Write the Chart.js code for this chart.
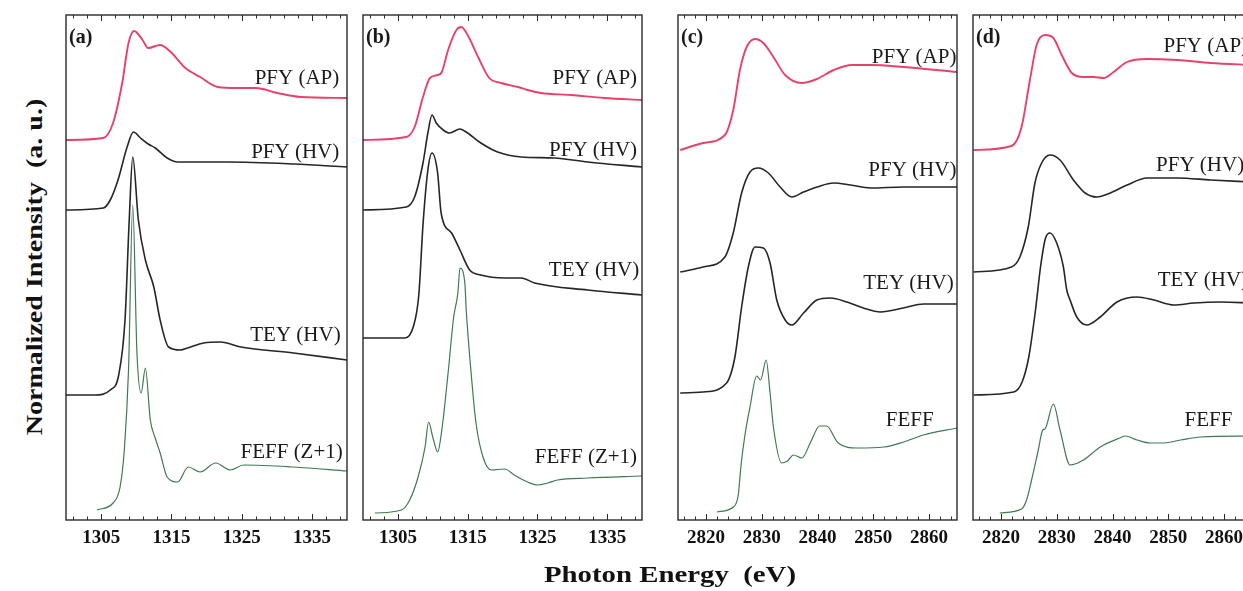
<!DOCTYPE html>
<html>
<head>
<meta charset="utf-8">
<script src="https://cdn.jsdelivr.net/npm/chart.js@4.4.1/dist/chart.umd.min.js"></script>
<style>
  html, body { margin: 0; padding: 0; background: #fff; overflow: hidden; }
  #wrap { position: relative; width: 1243px; height: 591px; overflow: hidden; }
  .panel { position: absolute; top: 0; }
  .title { position: absolute; height: 30px; line-height: 30px; text-align: center;
           font-family: "Liberation Serif", "Times New Roman", serif; font-weight: bold;
           color: #111; white-space: pre; }
  #xtitle { left: 420px; top: 559px; width: 500px; font-size: 24px; transform: scaleX(1.2); }
  #ytitle { left: -165px; top: 252px; width: 400px; font-size: 23px; transform: rotate(-90deg) scaleX(1.22); }
</style>
</head>
<body>
<div id="wrap">
  <canvas id="pa" class="panel" style="left:56px" width="301" height="591"></canvas>
  <canvas id="pb" class="panel" style="left:353px" width="299" height="591"></canvas>
  <canvas id="pc" class="panel" style="left:668px" width="299" height="591"></canvas>
  <canvas id="pd" class="panel" style="left:963px" width="299" height="591"></canvas>
  <div id="xtitle" class="title">Photon Energy  (eV)</div>
  <div id="ytitle" class="title">Normalized Intensity  (a. u.)</div>
</div>
<script>
// ---------------- tick labels ----------------
const ticksL = [1305, 1315, 1325, 1335];          // L-edge panels (a), (b)
const ticksK = [2820, 2830, 2840, 2850, 2860];    // K-edge panels (c), (d)

// ---------------- curves : [energy, normalized intensity + offset] ----------------
// panel (a)
const a_pfyAP = [[1300,3.80],[1305.3,3.82],[1306.7,3.97],[1308,4.37],[1308.9,4.77],[1309.7,4.89],[1310.9,4.80],[1311.7,4.72],[1313.4,4.75],[1314.9,4.68],[1317,4.52],[1319.1,4.43],[1321.6,4.33],[1324.4,4.32],[1327,4.32],[1330.1,4.27],[1333.4,4.23],[1340,4.22]];
const a_pfyHV = [[1300,3.10],[1305.3,3.12],[1306.3,3.20],[1307.4,3.40],[1308.7,3.73],[1309.6,3.88],[1310.6,3.82],[1311.7,3.76],[1312.7,3.72],[1314.4,3.62],[1315.9,3.58],[1323,3.58],[1332.4,3.56],[1340,3.53]];
const a_teyHV = [[1300,1.25],[1304.1,1.25],[1306.3,1.30],[1307.5,1.45],[1308.4,2.0],[1309.0,3.0],[1309.5,3.63],[1310.3,3.0],[1311.3,2.6],[1312.5,2.33],[1313.4,2.0],[1314.6,1.73],[1316.3,1.70],[1317.3,1.72],[1319.6,1.77],[1322,1.78],[1324.9,1.73],[1332.4,1.67],[1340,1.60]];
const a_feff  = [[1304.4,0.10],[1306.7,0.17],[1307.7,0.33],[1308.3,0.70],[1308.9,1.50],[1309.5,3.15],[1310.1,1.67],[1310.7,1.27],[1311.3,1.52],[1312,1.0],[1312.7,0.82],[1313.4,0.67],[1314.4,0.43],[1315.9,0.38],[1317.4,0.53],[1319.1,0.48],[1321.3,0.57],[1323.4,0.50],[1325.3,0.55],[1332.4,0.53],[1340,0.49]];
// panel (b)
const b_pfyAP = [[1300,3.80],[1306.2,3.83],[1307.4,3.93],[1308.6,4.23],[1309.6,4.42],[1310.7,4.45],[1311.3,4.48],[1312.2,4.70],[1313.4,4.90],[1314.1,4.93],[1315,4.85],[1316.5,4.63],[1318.1,4.42],[1319.8,4.37],[1322.2,4.33],[1323.6,4.30],[1325.5,4.27],[1329.8,4.25],[1334.6,4.22],[1340,4.20]];
const b_pfyHV = [[1300,3.10],[1306.2,3.13],[1307.4,3.23],[1308.6,3.57],[1309.3,3.87],[1309.9,4.05],[1310.5,3.97],[1311.5,3.90],[1312.4,3.87],[1313.9,3.91],[1315,3.87],[1316.9,3.77],[1319.3,3.68],[1322.7,3.63],[1327.4,3.62],[1332.2,3.58],[1340,3.53]];
const b_teyHV = [[1300,1.82],[1306,1.82],[1307.2,1.93],[1308.0,2.25],[1308.6,2.95],[1309.3,3.50],[1309.9,3.67],[1310.7,3.47],[1311.2,3.07],[1312.7,2.87],[1313.9,2.70],[1315.3,2.50],[1316.9,2.45],[1320.3,2.42],[1322.7,2.42],[1324.6,2.37],[1332.2,2.30],[1340,2.25]];
const b_feff  = [[1301.7,0.07],[1305.5,0.10],[1306.7,0.20],[1307.9,0.43],[1308.9,0.73],[1309.4,0.98],[1310,0.83],[1310.7,0.68],[1311.3,0.90],[1312.2,1.47],[1313,2.03],[1313.6,2.27],[1313.9,2.52],[1314.6,2.37],[1314.8,2.10],[1315.5,1.47],[1316.2,0.97],[1317.2,0.63],[1318.4,0.50],[1320.3,0.51],[1321.7,0.45],[1323.6,0.38],[1325,0.35],[1326.5,0.37],[1327.9,0.40],[1332.2,0.42],[1340,0.44]];
// panel (c)
const c_pfyAP = [[2815.4,3.70],[2819.5,3.77],[2823.4,3.85],[2824.9,4.10],[2826.1,4.50],[2827.3,4.73],[2828.8,4.81],[2830.3,4.77],[2832.1,4.63],[2834.2,4.45],[2837.2,4.37],[2839.9,4.41],[2842.9,4.50],[2846.2,4.55],[2849.5,4.55],[2855.4,4.53],[2865,4.48]];
const c_pfyHV = [[2815.4,2.48],[2819.5,2.53],[2823.4,2.63],[2824.9,2.87],[2826.4,3.27],[2827.9,3.48],[2829.4,3.52],[2831.2,3.47],[2833.3,3.33],[2835.4,3.23],[2837.5,3.28],[2839.9,3.33],[2842.9,3.37],[2845.9,3.35],[2849.5,3.32],[2855.4,3.33],[2865,3.33]];
const c_teyHV = [[2815.4,1.27],[2819.5,1.28],[2823.7,1.37],[2825.2,1.63],[2826.4,2.13],[2827.6,2.53],[2828.8,2.73],[2830.3,2.72],[2831.5,2.57],[2832.7,2.20],[2834.2,2.00],[2835.4,1.95],[2837.5,2.07],[2839.9,2.20],[2842.3,2.22],[2845.3,2.18],[2848.2,2.12],[2851.3,2.08],[2855.4,2.12],[2859,2.16],[2865,2.16]];
const c_feff  = [[2822,0.08],[2824.9,0.13],[2825.8,0.25],[2826.3,0.55],[2827,0.85],[2827.9,1.13],[2829.1,1.44],[2829.8,1.40],[2830.8,1.60],[2831.5,1.27],[2832.1,0.93],[2833.6,0.57],[2834.6,0.59],[2835.7,0.65],[2837.2,0.62],[2838.7,0.77],[2840.4,0.94],[2841.6,0.94],[2843.7,0.77],[2847.1,0.72],[2851.9,0.73],[2855.4,0.78],[2859,0.85],[2865,0.92]];
// panel (d)
const d_pfyAP = [[2815.1,3.70],[2821.9,3.74],[2823.7,3.93],[2825.2,4.40],[2826.4,4.75],[2827.9,4.85],[2829.4,4.82],[2830.9,4.65],[2832.7,4.47],[2834.8,4.43],[2836.6,4.43],[2838.4,4.42],[2840.2,4.48],[2842.6,4.58],[2846.2,4.61],[2851.6,4.60],[2857.6,4.57],[2865,4.55]];
const d_pfyHV = [[2815.1,2.48],[2821.9,2.53],[2823.4,2.63],[2824.9,2.93],[2826.1,3.37],[2827.3,3.57],[2828.8,3.65],[2830.6,3.60],[2833,3.40],[2835.1,3.27],[2837.2,3.23],[2839.6,3.27],[2842.6,3.35],[2846.2,3.42],[2851.6,3.42],[2857.6,3.40],[2865,3.38]];
const d_teyHV = [[2815.1,1.25],[2822.3,1.28],[2823.8,1.38],[2825,1.63],[2826.2,2.10],[2827.1,2.53],[2828,2.82],[2828.8,2.87],[2830,2.77],[2831.2,2.53],[2831.8,2.30],[2832.4,2.20],[2833.6,2.03],[2835.4,1.95],[2837.8,2.03],[2840.8,2.18],[2844.4,2.23],[2847.4,2.20],[2851,2.15],[2854.6,2.17],[2859.4,2.18],[2865,2.17]];
const d_feff  = [[2819.8,0.07],[2823.7,0.11],[2824.6,0.20],[2825.5,0.40],[2826.7,0.70],[2827.5,0.90],[2827.9,0.91],[2829.4,1.16],[2830.6,0.90],[2832.4,0.55],[2834.8,0.60],[2837.8,0.73],[2841.3,0.82],[2842.3,0.84],[2844.4,0.80],[2846.8,0.77],[2849.2,0.77],[2852.2,0.80],[2855.8,0.83],[2865,0.84]];

const seriesNames = ["PFY (AP)", "PFY (HV)", "TEY (HV)", "FEFF"];
const seriesColors = ["#e8416c", "#262626", "#262626", "#3f7a50"];
const seriesWidths = [1.9, 1.6, 1.6, 1.2];

// curve labels : [text, right-edge energy, height]
const labelsA = [["PFY (AP)",1338.9,4.42],["PFY (HV)",1338.9,3.68],["TEY (HV)",1339.1,1.85],["FEFF (Z+1)",1339.4,0.68]];
const labelsB = [["PFY (AP)",1339.3,4.42],["PFY (HV)",1339.3,3.70],["TEY (HV)",1339.6,2.50],["FEFF (Z+1)",1339.3,0.63]];
const labelsC = [["PFY (AP)",2864.9,4.63],["PFY (HV)",2864.9,3.50],["TEY (HV)",2864.4,2.37],["FEFF",2860.8,1.00]];
const labelsD = [["PFY (AP)",2864.3,4.74],["PFY (HV)",2863.6,3.55],["TEY (HV)",2864.3,2.40],["FEFF",2861.5,1.00]];

const panels = [
  { id: "pa", tag: "(a)", min: 1300, max: 1340, ticks: ticksL, curves: [a_pfyAP, a_pfyHV, a_teyHV, a_feff], labels: labelsA },
  { id: "pb", tag: "(b)", min: 1300, max: 1340, ticks: ticksL, curves: [b_pfyAP, b_pfyHV, b_teyHV, b_feff], labels: labelsB },
  { id: "pc", tag: "(c)", min: 2815, max: 2865, ticks: ticksK, curves: [c_pfyAP, c_pfyHV, c_teyHV, c_feff], labels: labelsC },
  { id: "pd", tag: "(d)", min: 2815, max: 2865, ticks: ticksK, curves: [d_pfyAP, d_pfyHV, d_teyHV, d_feff], labels: labelsD },
];

const SERIF = '"Liberation Serif", "Times New Roman", serif';

// frame, inward ticks (major + minor), curve labels and panel tag
const framePlugin = {
  id: "frame",
  afterDraw(chart, args, opts) {
    const { ctx, chartArea: a, scales } = chart;
    const xs = scales.x, ys = scales.y;
    ctx.save();
    ctx.strokeStyle = "#2a2a2a";
    ctx.lineWidth = 1.4;
    ctx.strokeRect(a.left, a.top, a.right - a.left, a.bottom - a.top);

    ctx.lineWidth = 1;
    const first = opts.ticks[0];
    for (let v = first - 10; v <= xs.max; v += 2) {
      if (v < xs.min) continue;
      const major = opts.ticks.includes(v);
      const len = major ? 6 : 3.5;
      const px = Math.round(xs.getPixelForValue(v)) + 0.5;
      ctx.beginPath();
      ctx.moveTo(px, a.bottom); ctx.lineTo(px, a.bottom - len);
      ctx.moveTo(px, a.top); ctx.lineTo(px, a.top + len);
      ctx.stroke();
    }

    ctx.fillStyle = "#1a1a1a";
    ctx.font = "21px " + SERIF;
    ctx.textAlign = "right";
    ctx.textBaseline = "middle";
    opts.labels.forEach(([t, x, y]) => {
      ctx.fillText(t, xs.getPixelForValue(x), ys.getPixelForValue(y));
    });

    ctx.font = "bold 20px " + SERIF;
    ctx.textAlign = "left";
    ctx.fillText(opts.tag, a.left + 3, a.top + 23);
    ctx.restore();
  }
};

panels.forEach(p => {
  new Chart(document.getElementById(p.id), {
    type: "line",
    data: {
      datasets: p.curves.map((c, i) => ({
        label: seriesNames[i],
        data: c.map(([x, y]) => ({ x, y })),
        borderColor: seriesColors[i],
        borderWidth: seriesWidths[i],
        pointRadius: 0,
        fill: false,
        cubicInterpolationMode: "monotone"
      }))
    },
    options: {
      responsive: false,
      animation: false,
      layout: { padding: { left: 10, right: 10, top: 15, bottom: 41 } },
      plugins: {
        legend: { display: false },
        tooltip: { enabled: false },
        frame: { ticks: p.ticks, labels: p.labels, tag: p.tag }
      },
      scales: {
        x: {
          type: "linear",
          min: p.min, max: p.max,
          grid: { display: false, drawTicks: false },
          border: { display: false },
          ticks: {
            font: { family: SERIF, size: 19, weight: "bold" },
            color: "#111",
            padding: 7,
            maxRotation: 0,
            autoSkip: false,
            callback: v => String(v)
          },
          afterBuildTicks: s => { s.ticks = p.ticks.map(v => ({ value: v })); },
          afterFit: s => { s.height = 30; }
        },
        y: { display: false, min: 0, max: 5.05 }
      }
    },
    plugins: [framePlugin]
  });
});
</script>
</body>
</html>
